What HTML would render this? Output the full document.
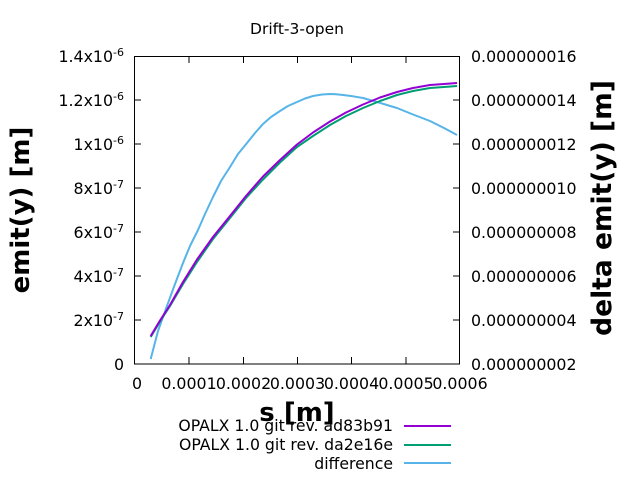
<!DOCTYPE html>
<html><head><style>body{margin:0;background:#fff}</style></head><body>
<svg width="640" height="480" xmlns="http://www.w3.org/2000/svg" font-family="DejaVu Sans, sans-serif">
<rect width="640" height="480" fill="#fff"/>
<text x="297" y="34" font-size="15.5" text-anchor="middle">Drift-3-open</text>
<g stroke="#000" stroke-width="1">
<rect x="134.5" y="56.5" width="325" height="307.5" fill="none"/>
<path d="M134 320h7M134 276h7M134 232h7M134 188h7M134 144h7M134 100h7M460 320h-7M460 276h-7M460 232h-7M460 188h-7M460 144h-7M460 100h-7M189 364v-7M243.5 364v-7M297.5 364v-7M351.5 364v-7M406 364v-7M189 56v7M243.5 56v7M297.5 56v7M351.5 56v7M406 56v7"/>
</g>
<g font-size="15.8" text-anchor="end">
<text x="124" y="370">0</text>
<text x="124" y="326">2x10<tspan dy="-6" font-size="11">-7</tspan></text>
<text x="124" y="282">4x10<tspan dy="-6" font-size="11">-7</tspan></text>
<text x="124" y="238">6x10<tspan dy="-6" font-size="11">-7</tspan></text>
<text x="124" y="194">8x10<tspan dy="-6" font-size="11">-7</tspan></text>
<text x="124" y="150">1x10<tspan dy="-6" font-size="11">-6</tspan></text>
<text x="124" y="106">1.2x10<tspan dy="-6" font-size="11">-6</tspan></text>
<text x="124" y="62">1.4x10<tspan dy="-6" font-size="11">-6</tspan></text>
</g>
<g font-size="15.8">
<text x="471" y="370">0.000000002</text>
<text x="471" y="326">0.000000004</text>
<text x="471" y="282">0.000000006</text>
<text x="471" y="238">0.000000008</text>
<text x="471" y="194">0.000000010</text>
<text x="471" y="150">0.000000012</text>
<text x="471" y="106">0.000000014</text>
<text x="471" y="62">0.000000016</text>
</g>
<g font-size="15.8" text-anchor="middle">
<text x="137" y="389">0</text>
<text x="189" y="389">0.0001</text>
<text x="243.5" y="389">0.0002</text>
<text x="297.5" y="389">0.0003</text>
<text x="351.5" y="389">0.0004</text>
<text x="406" y="389">0.0005</text>
<text x="460" y="389">0.0006</text>
</g>
<text x="297" y="421" font-size="26" font-weight="bold" text-anchor="middle">s [m]</text>
<text transform="translate(29,210) rotate(-90)" font-size="26" font-weight="bold" text-anchor="middle">emit(y) [m]</text>
<text transform="translate(611,208) rotate(-90)" font-size="26.5" font-weight="bold" text-anchor="middle">delta emit(y) [m]</text>
<g fill="none" stroke-width="2" stroke-linejoin="round">
<polyline stroke="#56b4e9" points="150.7,359 158,331 166.7,306.7 175,284 183,263 190,246 198,230 205,214 213,197 221,181 230,167 238,154 247,143 255,133 263,124 271,117 280,111 288,106 297,102 305,98.5 313,96 322,94.5 330,94 336,94.3 343,95 353,96.3 363,98 370,100 377,102 387,105 397,108 413,114.5 430,121 444,128 457,135"/>
<polyline stroke="#009e73" points="150.7,337 160,321.5 170,306 183,284 197,262 213,239 230,218 246,198 263,179.5 280,162.5 297,147 313,136 330,125 346,116 363,108 380,101 397,95 413,91 430,88 444,87 457,86"/>
<polyline stroke="#9400d3" points="150.7,336 160,320.5 170,305 183,282 197,259.5 213,237 230,216 246,196 263,176.5 280,160 297,144.5 313,132.5 330,121.5 346,112.5 363,104.5 380,97.5 397,92 413,88 430,85 444,84 457,83"/>
</g>
<g font-size="15.7" text-anchor="end">
<text x="393" y="431">OPALX 1.0 git rev. ad83b91</text>
<text x="393" y="450">OPALX 1.0 git rev. da2e16e</text>
<text x="393" y="469">difference</text>
</g>
<g stroke-width="2">
<line x1="404" y1="426" x2="451" y2="426" stroke="#9400d3"/>
<line x1="404" y1="445" x2="451" y2="445" stroke="#009e73"/>
<line x1="404" y1="463" x2="451" y2="463" stroke="#56b4e9"/>
</g>
</svg>
</body></html>
